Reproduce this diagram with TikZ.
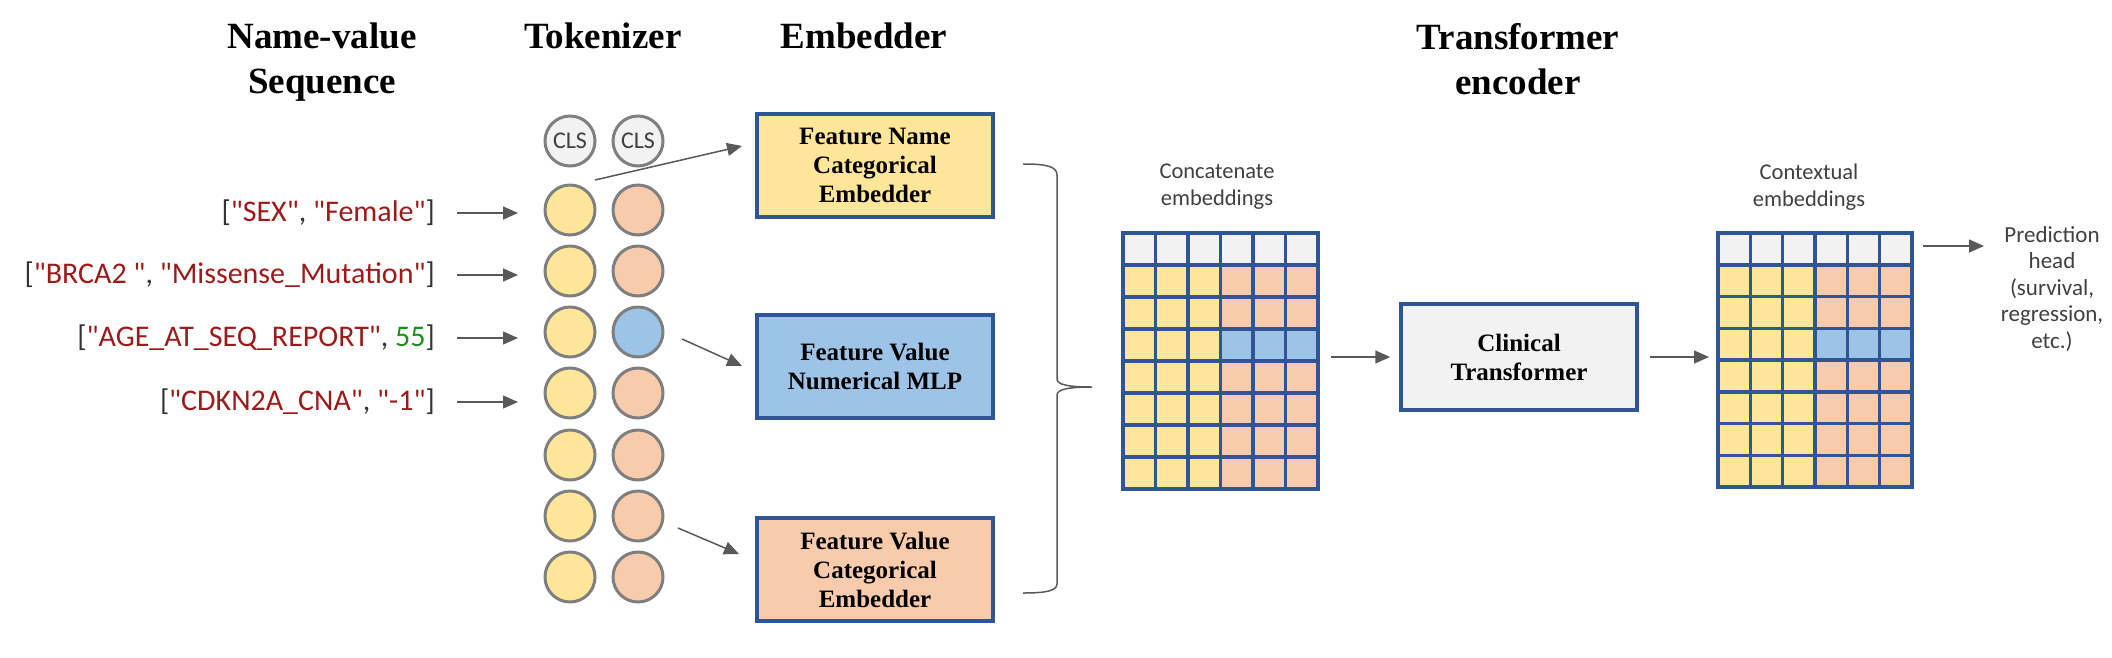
\documentclass[tikz,border=0pt]{standalone}
\usepackage{fontspec}
\setmainfont{Liberation Serif}
\newfontfamily\sansf{Carlito}
\usetikzlibrary{arrows.meta}
\definecolor{cyel}{HTML}{FFE699}
\definecolor{cpeach}{HTML}{F8CBAD}
\definecolor{cblue}{HTML}{9DC3E6}
\definecolor{cgray}{HTML}{F2F2F2}
\definecolor{cborder}{HTML}{2F5597}
\definecolor{ccirc}{HTML}{7F7F7F}
\definecolor{carrow}{HTML}{595959}
\definecolor{ctext}{HTML}{404040}
\definecolor{cstr}{HTML}{9E1A1A}
\definecolor{cnum}{HTML}{1E8C1E}
\definecolor{cbr}{HTML}{333333}
\newcommand\str[1]{\textcolor{cstr}{#1}}
\newcommand\brk[1]{\textcolor{cbr}{#1}}
\begin{document}
\begin{tikzpicture}[x=1pt,y=-1pt,
  header/.style={font=\fontsize{37}{45}\selectfont\bfseries, align=center, anchor=base, inner sep=0},
  seqtxt/.style={font=\sansf\fontsize{30}{36}\selectfont, anchor=east, inner sep=0},
  small/.style={font=\sansf\fontsize{22.5}{27}\selectfont, text=ctext, align=center, inner sep=0},
  tok/.style={circle, draw=ccirc, line width=3pt, minimum size=50pt, inner sep=0},
  cls/.style={tok, fill=cgray, font=\sansf\fontsize{24}{24}\selectfont, text=ctext},
  embbox/.style={draw=cborder, line width=3.5pt, minimum width=236pt, minimum height=103pt, inner sep=0, align=center, font=\fontsize{25}{29}\selectfont\bfseries},
  arr/.style={draw=carrow, line width=1.5pt, -{Triangle[length=15pt,width=13pt]}, color=carrow},
  brace/.style={draw=carrow, line width=1.5pt},
  gridline/.style={draw=cborder, line width=3.5pt, line cap=rect}
]
\useasboundingbox (0,0) rectangle (2112,657);

% headers (base = baseline of last line)
\node[header] (h1) at (322,93) {Name-value\\Sequence};
\node[header] (h2) at (603,48) {Tokenizer};
\node[header] (h3) at (864,48) {Embedder};
\node[header] (h4) at (1518,94) {Transformer\\encoder};

% name-value sequence
\node[seqtxt] (t1) at (435,213) {\brk{[}\str{"SEX"}\brk{, }\str{"Female"}\brk{]}};
\node[seqtxt] (t2) at (435,275) {\brk{[}\str{"BRCA2 "}\brk{, }\str{"Missense\_Mutation"}\brk{]}};
\node[seqtxt] (t3) at (435,338) {\brk{[}\str{"AGE\_AT\_SEQ\_REPORT"}\brk{, }\textcolor{cnum}{55}\brk{]}};
\node[seqtxt] (t4) at (435,402) {\brk{[}\str{"CDKN2A\_CNA"}\brk{, }\str{"-1"}\brk{]}};

% tokens
\node[cls] (c0a) at (570,141) {CLS};
\node[cls] (c0b) at (638,141) {CLS};
\foreach \i/\yy/\pc in {1/210/cpeach,2/271/cpeach,3/332/cblue,4/393/cpeach,5/455/cpeach,6/516/cpeach,7/577/cpeach}{
  \node[tok, fill=cyel] (y\i) at (570,\yy) {};
  \node[tok, fill=\pc] (p\i) at (638,\yy) {};
}

% arrows sequence -> tokens
\foreach \i in {1,...,4}{
  \draw[arr, shorten <=22pt] (t\i.east) -- (t\i.east -| {(518,0)});
}

% embedder boxes
\node[embbox, fill=cyel] (e1) at (875,165.5) {Feature Name\\Categorical\\Embedder};
\node[embbox, fill=cblue] (e2) at (875,366.5) {Feature Value\\Numerical MLP};
\node[embbox, fill=cpeach] (e3) at (875,569.5) {Feature Value\\Categorical\\Embedder};

% arrows tokens -> embedders
\coordinate (aS) at (595,180);
\coordinate (aE) at (742,146);
\coordinate (bS) at (682,339);
\coordinate (bE) at (742,366);
\coordinate (cS) at (678,528);
\coordinate (cE) at (739,554);
\draw[arr] (aS) -- (aE);
\draw[arr] (bS) -- (bE);
\draw[arr] (cS) -- (cE);

% brace
\draw[brace] (1023,164) .. controls (1045,164) and (1057,166) .. (1057,175) -- (1057,379)
  .. controls (1057,385) and (1070,387) .. (1092,387)
  .. controls (1070,387) and (1057,389) .. (1057,395) -- (1057,584)
  .. controls (1057,591) and (1045,593) .. (1023,593);

% grid 1
\node[small] (l1) at (1217,187) {Concatenate\\embeddings};
\node[minimum width=195pt, minimum height=256pt, inner sep=0, anchor=north west] (g1) at (1123,233) {};
\foreach \r in {0,...,7}{
  \foreach \c in {0,...,5}{
    \ifnum\r=0 \def\col{cgray}\else\ifnum\c<3 \def\col{cyel}\else\ifnum\r=3 \def\col{cblue}\else\def\col{cpeach}\fi\fi\fi
    \fill[\col] (1123+\c*32.5,233+\r*32) rectangle ++(32.5,32);
  }
}
\foreach \c in {0,...,6}{\draw[gridline] (1123+\c*32.5,233) -- ++(0,256);}
\foreach \r in {0,...,8}{\draw[gridline] (1123,233+\r*32) -- ++(195,0);}

% transformer
\node[embbox, fill=cgray, minimum height=106pt] (tf) at (1519,357) {Clinical\\Transformer};
\draw[arr, shorten <=13pt, shorten >=9pt] (g1.east |- tf.west) -- (tf.west);

% grid 2
\node[small] (l2) at (1809,187) {Contextual\\embeddings};
\node[minimum width=194pt, minimum height=254pt, inner sep=0, anchor=north west] (g2) at (1718,233) {};
\foreach \r in {0,...,7}{
  \foreach \c in {0,...,5}{
    \ifnum\r=0 \def\col{cgray}\else\ifnum\c<3 \def\col{cyel}\else\ifnum\r=3 \def\col{cblue}\else\def\col{cpeach}\fi\fi\fi
    \fill[\col] (1718+\c*32.333,233+\r*31.75) rectangle ++(32.333,31.75);
  }
}
\foreach \c in {0,...,6}{\draw[gridline] (1718+\c*32.333,233) -- ++(0,254);}
\foreach \r in {0,...,8}{\draw[gridline] (1718,233+\r*31.75) -- ++(194,0);}
\draw[arr, shorten <=11pt, shorten >=9pt] (tf.east) -- (tf.east -| g2.west);

% prediction head
\node[small, font=\sansf\fontsize{23}{26.5}\selectfont] (ph) at (2052,289) {Prediction\\head\\(survival,\\regression,\\etc.)};
\coordinate (g2top) at (1912,246);
\draw[arr, shorten <=11pt] (g2top) -- (1984,246);
\end{tikzpicture}
\end{document}
